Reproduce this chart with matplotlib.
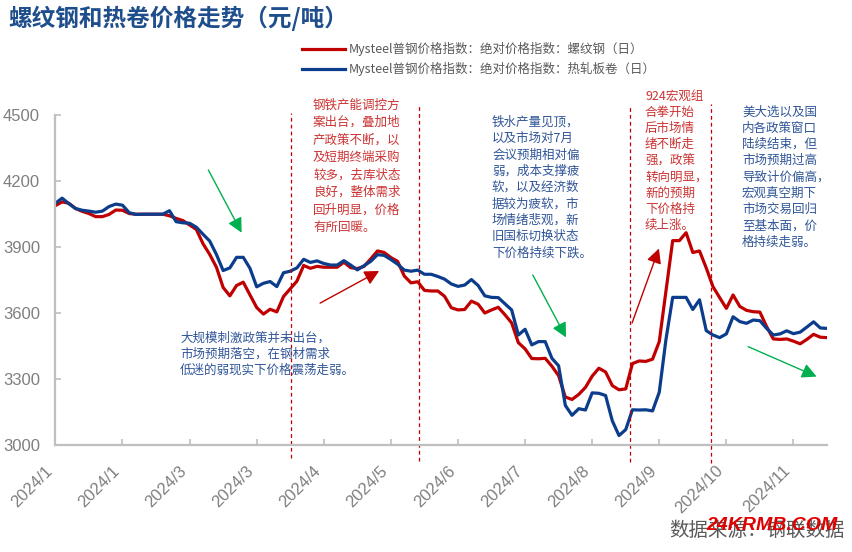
import numpy as np
import matplotlib
matplotlib.use("Agg")
import matplotlib.pyplot as plt
from matplotlib.transforms import ScaledTranslation

plt.rcParams['font.family'] = ['Noto Sans CJK SC', 'DejaVu Sans']

# x axis is trading days, labels every 20 days
tick_labels = ['2024/1', '2024/1', '2024/3', '2024/3', '2024/4', '2024/5',
               '2024/6', '2024/7', '2024/8', '2024/9', '2024/10', '2024/11']
step = 2  # one value read every second trading day

# Mysteel 螺纹钢 (red)
rebar = [4088, 4105, 4099, 4075, 4062, 4052, 4038, 4038, 4048, 4068,
         4067, 4052, 4049, 4049, 4049, 4049, 4049, 4042, 4030, 4020,
         4000, 3980, 3915, 3866, 3808, 3716, 3678, 3725, 3740, 3682,
         3625, 3595, 3617, 3605, 3675, 3710, 3745, 3816, 3803, 3812,
         3808, 3808, 3808, 3831, 3806, 3802, 3812, 3846, 3882, 3875,
         3852, 3835, 3768, 3737, 3742, 3703, 3700, 3700, 3676, 3624,
         3614, 3616, 3654, 3640, 3600, 3614, 3626, 3592, 3555, 3465,
         3437, 3393, 3392, 3394, 3358, 3315, 3218, 3207, 3230, 3262,
         3313, 3349, 3332, 3270, 3251, 3255, 3370, 3382, 3380, 3390,
         3470, 3700, 3929, 3929, 3965, 3875, 3882, 3805, 3720, 3670,
         3621, 3682, 3630, 3612, 3606, 3604, 3538, 3482, 3480, 3482,
         3472, 3460, 3480, 3503, 3490, 3488]

# Mysteel 热轧板卷 (blue)
hrc = [4099, 4122, 4097, 4075, 4067, 4063, 4058, 4063, 4084, 4095,
       4090, 4056, 4048, 4049, 4049, 4049, 4049, 4065, 4015, 4010,
       4008, 3990, 3958, 3927, 3866, 3793, 3805, 3853, 3853, 3803,
       3719, 3735, 3743, 3720, 3783, 3790, 3805, 3844, 3830, 3837,
       3825, 3818, 3818, 3838, 3818, 3796, 3815, 3835, 3865, 3862,
       3843, 3822, 3795, 3790, 3795, 3776, 3776, 3766, 3754, 3732,
       3721, 3727, 3752, 3725, 3678, 3671, 3670, 3642, 3614, 3500,
       3526, 3455, 3470, 3470, 3394, 3360, 3180, 3135, 3165, 3159,
       3237, 3235, 3225, 3110, 3043, 3070, 3160, 3159, 3160, 3155,
       3240, 3480, 3671, 3671, 3671, 3616, 3660, 3520, 3500, 3488,
       3505, 3583, 3561, 3553, 3568, 3565, 3530, 3500, 3505, 3519,
       3506, 3513, 3536, 3560, 3532, 3530]

labels = ['Mysteel普钢价格指数：绝对价格指数：螺纹钢（日）',
          'Mysteel普钢价格指数：绝对价格指数：热轧板卷（日）']

# dividing events (trading day index) and how far the dashes reach
events = [70.3, 108.4, 171.4, 195.5]
event_top = [1.006, 1.027, 1.024, 1.033]
event_bot = [-0.039, -0.048, -0.052, -0.055]

RED = '#C00000'
BLUE = '#0B3D8C'
GREEN = '#00B050'
RED_TXT = '#CC3333'
BLUE_TXT = '#2F5597'

W, H = 852, 552
fig = plt.figure(figsize=(W / 100, H / 100), dpi=100)
ax = fig.add_axes([55.4 / W, 1 - 445 / H, (827 - 55.4) / W, 330 / H])

x = np.arange(len(rebar)) * step
l1, = ax.plot(x, rebar, color=RED, lw=2.3, solid_joinstyle='round')
l2, = ax.plot(x, hrc, color=BLUE, lw=2.3, solid_joinstyle='round')

ax.set_xlim(0, 230)
ax.set_ylim(3000, 4500)
ax.set_yticks(np.arange(3000, 4501, 300))
ax.set_yticklabels([str(v) for v in range(3000, 4501, 300)],
                   fontfamily='Liberation Sans')
ax.set_xticks(np.arange(0, 221, 20))
ax.set_xticklabels(tick_labels, rotation=45, ha='right', va='top',
                   fontfamily='Liberation Sans')
for lbl in ax.get_xticklabels():
    lbl.set_transform(lbl.get_transform() + ScaledTranslation(6 / 100, 0, fig.dpi_scale_trans))

for s in ['top', 'right']:
    ax.spines[s].set_visible(False)
for s in ['left', 'bottom']:
    ax.spines[s].set_color('#BFBFBF')
    ax.spines[s].set_linewidth(1.6)
ax.tick_params(axis='both', direction='in', length=4, width=1.2, color='#BFBFBF',
               labelcolor='#7F7F7F', labelsize=12)
ax.tick_params(axis='y', pad=11)
ax.tick_params(axis='x', pad=13)

for e, t, b in zip(events, event_top, event_bot):
    ax.axvline(e, ymin=b, ymax=t, color=RED, lw=0.9, ls=(0, (3, 2.5)), clip_on=False)

# arrows: (tail, tip) in (trading day, price)
arrows = [((45.6, 4250), (55.5, 3965), GREEN),
          ((78.9, 3645), (96.5, 3791), RED),
          ((142.3, 3773), (152.2, 3489), GREEN),
          ((171.9, 3555), (179.9, 3893), RED),
          ((206.5, 3447), (226.9, 3311), GREEN)]
for tail, tip, c in arrows:
    ax.annotate('', xy=tip, xytext=tail, annotation_clip=False,
                arrowprops=dict(arrowstyle='-|>,head_length=0.55,head_width=0.28',
                                mutation_scale=16, color=c, lw=1, shrinkA=0, shrinkB=0))

notes = [
    (['钢铁产能调控方', '案出台，叠加地', '产政策不断，以', '及短期终端采购',
      '较多，去库状态', '良好，整体需求', '回升明显，价格', '有所回暖。'],
     313, 105, 17.5, RED_TXT),
    (['大规模刺激政策并未出台，', '市场预期落空，在钢材需求', '低迷的弱现实下价格震荡走弱。'],
     180, 338, 16, BLUE_TXT),
    (['铁水产量见顶，', '以及市场对7月', '会议预期相对偏', '弱，成本支撑疲', '软，以及经济数',
      '据较为疲软，市', '场情绪悲观，新', '旧国标切换状态', '下价格持续下跌。'],
     492, 122, 16.4, BLUE_TXT),
    (['924宏观组', '合拳开始', '后市场情', '绪不断走', '强，政策', '转向明显，',
      '新的预期', '下价格持', '续上涨。'],
     645, 96, 16.2, RED_TXT),
    (['美大选以及国', '内各政策窗口', '陆续结束，但', '市场预期过高', '导致计价偏高，',
      '宏观真空期下', '市场交易回归', '至基本面，价', '格持续走弱。'],
     742, 112, 16.25, BLUE_TXT),
]
for lines, x0, y0, pitch, c in notes:
    for i, line in enumerate(lines):
        fig.text(x0 / W, 1 - (y0 + i * pitch) / H, line, fontsize=9, color=c,
                 ha='left', va='center')

fig.text(8 / W, 1 - 18 / H, '螺纹钢和热卷价格走势（元/吨）', fontsize=17,
         fontweight='bold', color='#1F4E8C', ha='left', va='center')

fig.legend([l1, l2], labels, loc='upper left', bbox_to_anchor=(302 / W, 1 - 42 / H),
           frameon=False, fontsize=9, handlelength=3.4, handletextpad=0.3,
           labelspacing=0.45, borderpad=0, borderaxespad=0, labelcolor='#595959')

fig.text(845 / W, 1 - 530 / H, '数据来源：钢联数据', fontsize=14, color='#595959',
         ha='right', va='center')
fig.text(838 / W, 1 - 525 / H, '24KRMB.COM', fontsize=14, color='#E00000',
         fontweight='bold', fontstyle='italic', fontfamily='Liberation Sans',
         ha='right', va='center')

fig.savefig('out.png', dpi=100)
